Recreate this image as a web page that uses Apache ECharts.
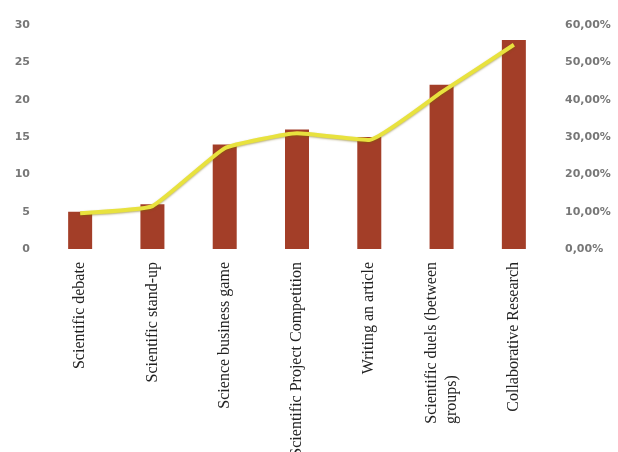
<!DOCTYPE html>
<html>
<head>
<meta charset="utf-8">
<script src="https://cdn.jsdelivr.net/npm/echarts@6/dist/echarts.min.js"></script>
<style>
  html, body { margin: 0; padding: 0; background: #fff; }
  #main { width: 618px; height: 452px; }
</style>
</head>
<body>
<div id="main"></div>
<script>
// activity types
const categories = [
  'Scientific debate',
  'Scientific stand-up',
  'Science business game',
  'Scientific Project Competition',
  'Writing an article',
  'Scientific duels (between\ngroups)',
  'Collaborative Research'
];
// counts (left axis)
const counts = [5, 6, 14, 16, 15, 22, 28];
// share in percent (right axis)
const shares = [9.6, 11.5, 27, 31, 29.2, 42, 54.7];

const BAR = '#a33e28', LINE = '#e8e23e';
const SERIF = { fontSize: 16, fontFamily: 'Liberation Serif', color: '#222', lineHeight: 20 };
const TICK = { color: '#777', fontSize: 11, fontWeight: 'bold', fontFamily: 'DejaVu Sans' };

// wrapped label: last line padded to the first line's width so lines stay left-aligned
const ctx = document.createElement('canvas').getContext('2d');
ctx.font = '16px "Liberation Serif"';
function catLabel(v) {
  const lines = v.split('\n');
  if (lines.length === 1) return v;
  return '{l|' + lines[0] + '}\n{p|' + lines[1] + '}';
}
const wrapped = categories.find((c) => c.includes('\n')).split('\n')[0];
const padW = Math.ceil(ctx.measureText(wrapped).width);

const chart = echarts.init(document.getElementById('main'), null, { renderer: 'canvas' });
chart.setOption({
  animation: false,
  grid: { left: 44, right: 68, top: 25, bottom: 203, outerBoundsMode: 'none' },
  xAxis: {
    type: 'category', data: categories,
    axisLine: { show: false }, axisTick: { show: false },
    axisLabel: {
      interval: 0, rotate: 90, margin: 13, ...SERIF,
      formatter: catLabel,
      rich: { l: { ...SERIF }, p: { ...SERIF, width: padW, align: 'left' } }
    }
  },
  yAxis: [
    { type: 'value', min: 0, max: 30, interval: 5, position: 'left',
      axisLine: { show: false }, axisTick: { show: false }, splitLine: { show: false },
      axisLabel: { ...TICK, margin: 14 } },
    { type: 'value', min: 0, max: 60, interval: 10, position: 'right',
      axisLine: { show: false }, axisTick: { show: false }, splitLine: { show: false },
      axisLabel: { ...TICK, margin: 15, formatter: (v) => v.toFixed(2).replace('.', ',') + '%' } }
  ],
  series: [
    { type: 'bar', data: counts, barWidth: 24, itemStyle: { color: BAR } },
    { type: 'line', yAxisIndex: 1, data: shares, smooth: 0.12, symbol: 'none',
      lineStyle: { color: LINE, width: 4, shadowColor: 'rgba(120,100,0,.5)', shadowBlur: 2, shadowOffsetY: 1 } }
  ]
});
</script>
</body>
</html>
